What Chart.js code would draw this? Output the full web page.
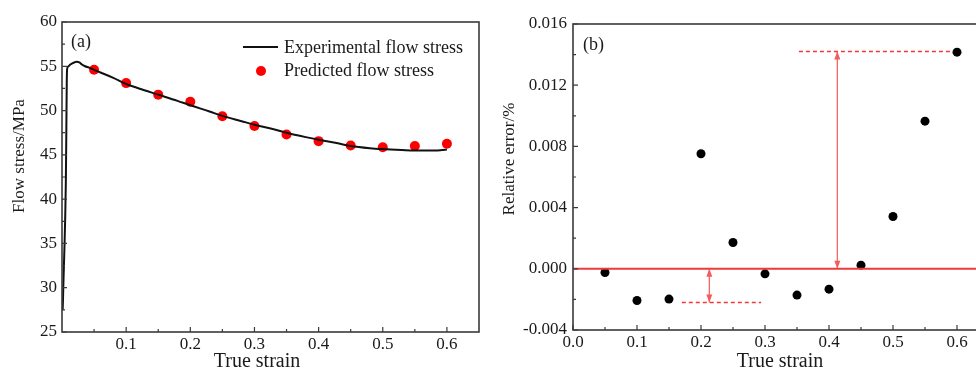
<!DOCTYPE html>
<html>
<head>
<meta charset="utf-8">
<script src="https://cdn.jsdelivr.net/npm/chart.js@4"></script>
<style>
  html, body { margin: 0; padding: 0; background: #fff; width: 976px; height: 374px; overflow: hidden; }
  .panel { position: absolute; top: 0; height: 374px; }
  #pa { left: 0; width: 490px; }
  #pb { left: 490px; width: 512px; }
</style>
</head>
<body>
<div class="panel" id="pa"><canvas id="chartA" width="490" height="374"></canvas></div>
<div class="panel" id="pb"><canvas id="chartB" width="512" height="374"></canvas></div>
<script>
// ---- panel (a): flow stress ----
const expStrain = [0.001, 0.0015, 0.002, 0.003, 0.004, 0.005, 0.006, 0.0068, 0.0074, 0.008, 0.01, 0.013, 0.018, 0.023, 0.027, 0.031, 0.036, 0.042, 0.05, 0.06, 0.08, 0.1, 0.12, 0.15, 0.18, 0.2, 0.23, 0.25, 0.28, 0.3, 0.33, 0.35, 0.38, 0.4, 0.43, 0.45, 0.48, 0.5, 0.53, 0.55, 0.58, 0.6];
const expStress = [27.5, 28.5, 30.0, 32.5, 35.0, 38.0, 42.0, 48.0, 53.0, 54.7, 55.0, 55.2, 55.4, 55.5, 55.45, 55.2, 55.0, 54.85, 54.6, 54.3, 53.7, 53.0, 52.5, 51.8, 51.1, 50.6, 49.9, 49.4, 48.8, 48.4, 47.9, 47.5, 47.0, 46.7, 46.3, 46.0, 45.75, 45.65, 45.55, 45.5, 45.5, 45.6];
const predStrain = [0.05, 0.1, 0.15, 0.2, 0.25, 0.3, 0.35, 0.4, 0.45, 0.5, 0.55, 0.6];
const predStress = [54.6, 53.1, 51.8, 51.0, 49.35, 48.25, 47.3, 46.55, 46.05, 45.85, 46.0, 46.25];
const stressTicks = [25, 30, 35, 40, 45, 50, 55, 60];
const stressMinor = [27.5, 32.5, 37.5, 42.5, 47.5, 52.5, 57.5];
const strainTicksA = [0.1, 0.2, 0.3, 0.4, 0.5, 0.6];
const strainMinor = [0.05, 0.15, 0.25, 0.35, 0.45, 0.55];

// ---- panel (b): relative error ----
const errStrain = [0.05, 0.1, 0.15, 0.2, 0.25, 0.3, 0.35, 0.4, 0.45, 0.5, 0.55, 0.6];
const errValues = [-0.00024, -0.00207, -0.00198, 0.00752, 0.00172, -0.00033, -0.00172, -0.00133, 0.00024, 0.00342, 0.00965, 0.01416];
const errTicks = [-0.004, 0, 0.004, 0.008, 0.012, 0.016];
const errMinor = [-0.002, 0.002, 0.006, 0.01, 0.014];
const strainTicksB = [0, 0.1, 0.2, 0.3, 0.4, 0.5, 0.6];
const zeroLineX = [0, 0.65];
const lowDashX = [0.17, 0.294];
const lowDashY = -0.0022;
const highDashX = [0.353, 0.594];
const highDashY = 0.0142;
const lowArrowX = 0.213;
const highArrowX = 0.413;

const SERIF = "'Liberation Serif', 'Times New Roman', serif";
const INK = '#1a1a1a';
const RED = '#f03a3a';

const pts = (xs, ys) => xs.map((x, i) => ({ x: x, y: ys[i] }));

// box around the plot and short inward ticks
function frameTicks(xMajor, xMinor, yMajor, yMinor) {
  return {
    id: 'frameTicks',
    afterDatasetsDraw(chart) {
      const { ctx, chartArea: a, scales } = chart;
      ctx.save();
      ctx.strokeStyle = '#3a3a3a';
      ctx.lineWidth = 1.6;
      ctx.strokeRect(a.left, a.top, a.right - a.left, a.bottom - a.top);
      ctx.lineWidth = 1.2;
      ctx.beginPath();
      const xt = (vals, len) => vals.forEach(v => {
        const px = scales.x.getPixelForValue(v);
        ctx.moveTo(px, a.bottom); ctx.lineTo(px, a.bottom - len);
      });
      const yt = (vals, len) => vals.forEach(v => {
        const py = scales.y.getPixelForValue(v);
        ctx.moveTo(a.left, py); ctx.lineTo(a.left + len, py);
      });
      xt(xMajor, 5); xt(xMinor, 3); yt(yMajor, 5); yt(yMinor, 3);
      ctx.stroke();
      ctx.restore();
    }
  };
}

// panel texts: tag, axis titles, legend
function labels(cfg) {
  return {
    id: 'labels',
    afterDraw(chart) {
      const ctx = chart.ctx;
      ctx.save();
      ctx.fillStyle = INK;
      ctx.textBaseline = 'middle';
      ctx.font = '18px ' + SERIF;
      ctx.textAlign = 'left';
      ctx.fillText(cfg.tag[0], cfg.tag[1], cfg.tag[2]);
      ctx.font = '20px ' + SERIF;
      ctx.textAlign = 'center';
      ctx.fillText(cfg.xTitle[0], cfg.xTitle[1], cfg.xTitle[2]);
      ctx.save();
      ctx.font = '17px ' + SERIF;
      ctx.translate(cfg.yTitle[1], cfg.yTitle[2]);
      ctx.rotate(-Math.PI / 2);
      ctx.fillText(cfg.yTitle[0], 0, 0);
      ctx.restore();
      if (cfg.legend) {
        const ds = chart.data.datasets;
        const L = cfg.legend;
        ctx.strokeStyle = ds[0].borderColor;
        ctx.lineWidth = 2;
        ctx.beginPath();
        ctx.moveTo(L.x, L.y1); ctx.lineTo(L.x + 35, L.y1);
        ctx.stroke();
        ctx.fillStyle = ds[1].backgroundColor;
        ctx.beginPath();
        ctx.arc(L.x + 18, L.y2, 5, 0, Math.PI * 2);
        ctx.fill();
        ctx.fillStyle = INK;
        ctx.font = '18px ' + SERIF;
        ctx.textAlign = 'left';
        ctx.fillText(ds[0].label, L.x + 41, L.y1 + 1);
        ctx.fillText(ds[1].label, L.x + 41, L.y2);
      }
      ctx.restore();
    }
  };
}

// arrowheads on both ends of datasets flagged as arrows
const arrowHeads = {
  id: 'arrowHeads',
  afterDatasetsDraw(chart) {
    const ctx = chart.ctx;
    chart.data.datasets.forEach((ds, i) => {
      if (!ds.arrow) return;
      const p = chart.getDatasetMeta(i).data;
      const ends = [[p[0], p[1]], [p[1], p[0]]];
      ctx.save();
      ctx.fillStyle = ds.borderColor;
      ends.forEach(([tip, other]) => {
        const dir = Math.sign(tip.y - other.y);
        ctx.beginPath();
        ctx.moveTo(tip.x, tip.y);
        ctx.lineTo(tip.x - 3, tip.y - dir * 8);
        ctx.lineTo(tip.x + 3, tip.y - dir * 8);
        ctx.closePath();
        ctx.fill();
      });
      ctx.restore();
    });
  }
};

function axes(xmin, xmax, xTicks, xFmt, ymin, ymax, yTicks, yFmt, yWidth, xHeight, yPad) {
  const tickFont = { family: SERIF, size: 17 };
  return {
    x: {
      type: 'linear', min: xmin, max: xmax,
      afterBuildTicks: s => { s.ticks = xTicks.map(v => ({ value: v })); },
      afterFit: s => { s.height = xHeight; },
      grid: { display: false, drawTicks: false }, border: { display: false },
      ticks: { padding: 2, color: INK, font: tickFont, autoSkip: false, maxRotation: 0, callback: v => v.toFixed(xFmt) }
    },
    y: {
      type: 'linear', min: ymin, max: ymax,
      afterBuildTicks: s => { s.ticks = yTicks.map(v => ({ value: v })); },
      afterFit: s => { s.width = yWidth; },
      grid: { display: false, drawTicks: false }, border: { display: false },
      ticks: { padding: yPad, color: INK, font: tickFont, autoSkip: false, callback: v => v.toFixed(yFmt) }
    }
  };
}

const common = {
  responsive: false,
  animation: false,
  plugins: { legend: { display: false }, tooltip: { enabled: false } }
};

new Chart(document.getElementById('chartA').getContext('2d'), {
  type: 'scatter',
  data: {
    datasets: [{
      label: 'Experimental flow stress',
      data: pts(expStrain, expStress),
      showLine: true,
      borderColor: '#111',
      borderWidth: 2,
      pointRadius: 0,
      cubicInterpolationMode: 'monotone'
    }, {
      label: 'Predicted flow stress',
      data: pts(predStrain, predStress),
      backgroundColor: '#ff0000',
      borderWidth: 0,
      pointRadius: 5
    }]
  },
  options: Object.assign({}, common, {
    layout: { padding: { left: 0, right: 11, top: 22, bottom: 0 } },
    scales: axes(0, 0.65, strainTicksA, 1, 25, 60, stressTicks, 0, 62, 42, 5)
  }),
  plugins: [
    frameTicks(strainTicksA, strainMinor, stressTicks, stressMinor),
    labels({
      tag: ['(a)', 71, 42],
      xTitle: ['True strain', 257, 362],
      yTitle: ['Flow stress/MPa', 20, 156],
      legend: { x: 243, y1: 47, y2: 71 }
    })
  ]
});

new Chart(document.getElementById('chartB').getContext('2d'), {
  type: 'scatter',
  data: {
    datasets: [{
      data: pts(zeroLineX, [0, 0]),
      showLine: true, borderColor: RED, borderWidth: 2, pointRadius: 0
    }, {
      data: pts(lowDashX, [lowDashY, lowDashY]),
      showLine: true, borderColor: RED, borderWidth: 1.5, borderDash: [4, 3], pointRadius: 0
    }, {
      data: pts(highDashX, [highDashY, highDashY]),
      showLine: true, borderColor: RED, borderWidth: 1.5, borderDash: [4, 3], pointRadius: 0
    }, {
      data: pts([lowArrowX, lowArrowX], [0, lowDashY]),
      showLine: true, borderColor: '#f65a5a', borderWidth: 1.2, pointRadius: 0, arrow: true
    }, {
      data: pts([highArrowX, highArrowX], [0, highDashY]),
      showLine: true, borderColor: '#f65a5a', borderWidth: 1.2, pointRadius: 0, arrow: true
    }, {
      data: pts(errStrain, errValues),
      backgroundColor: '#000',
      borderWidth: 0,
      pointRadius: 4.5
    }]
  },
  options: Object.assign({}, common, {
    layout: { padding: { left: 0, right: 13, top: 24, bottom: 0 } },
    scales: axes(0, 0.65, strainTicksB, 1, -0.004, 0.016, errTicks, 3, 83, 44, 6)
  }),
  plugins: [
    frameTicks(strainTicksB, strainMinor, errTicks, errMinor),
    arrowHeads,
    labels({
      tag: ['(b)', 93, 45],
      xTitle: ['True strain', 290, 362],
      yTitle: ['Relative error/%', 20, 159]
    })
  ]
});
</script>
</body>
</html>
